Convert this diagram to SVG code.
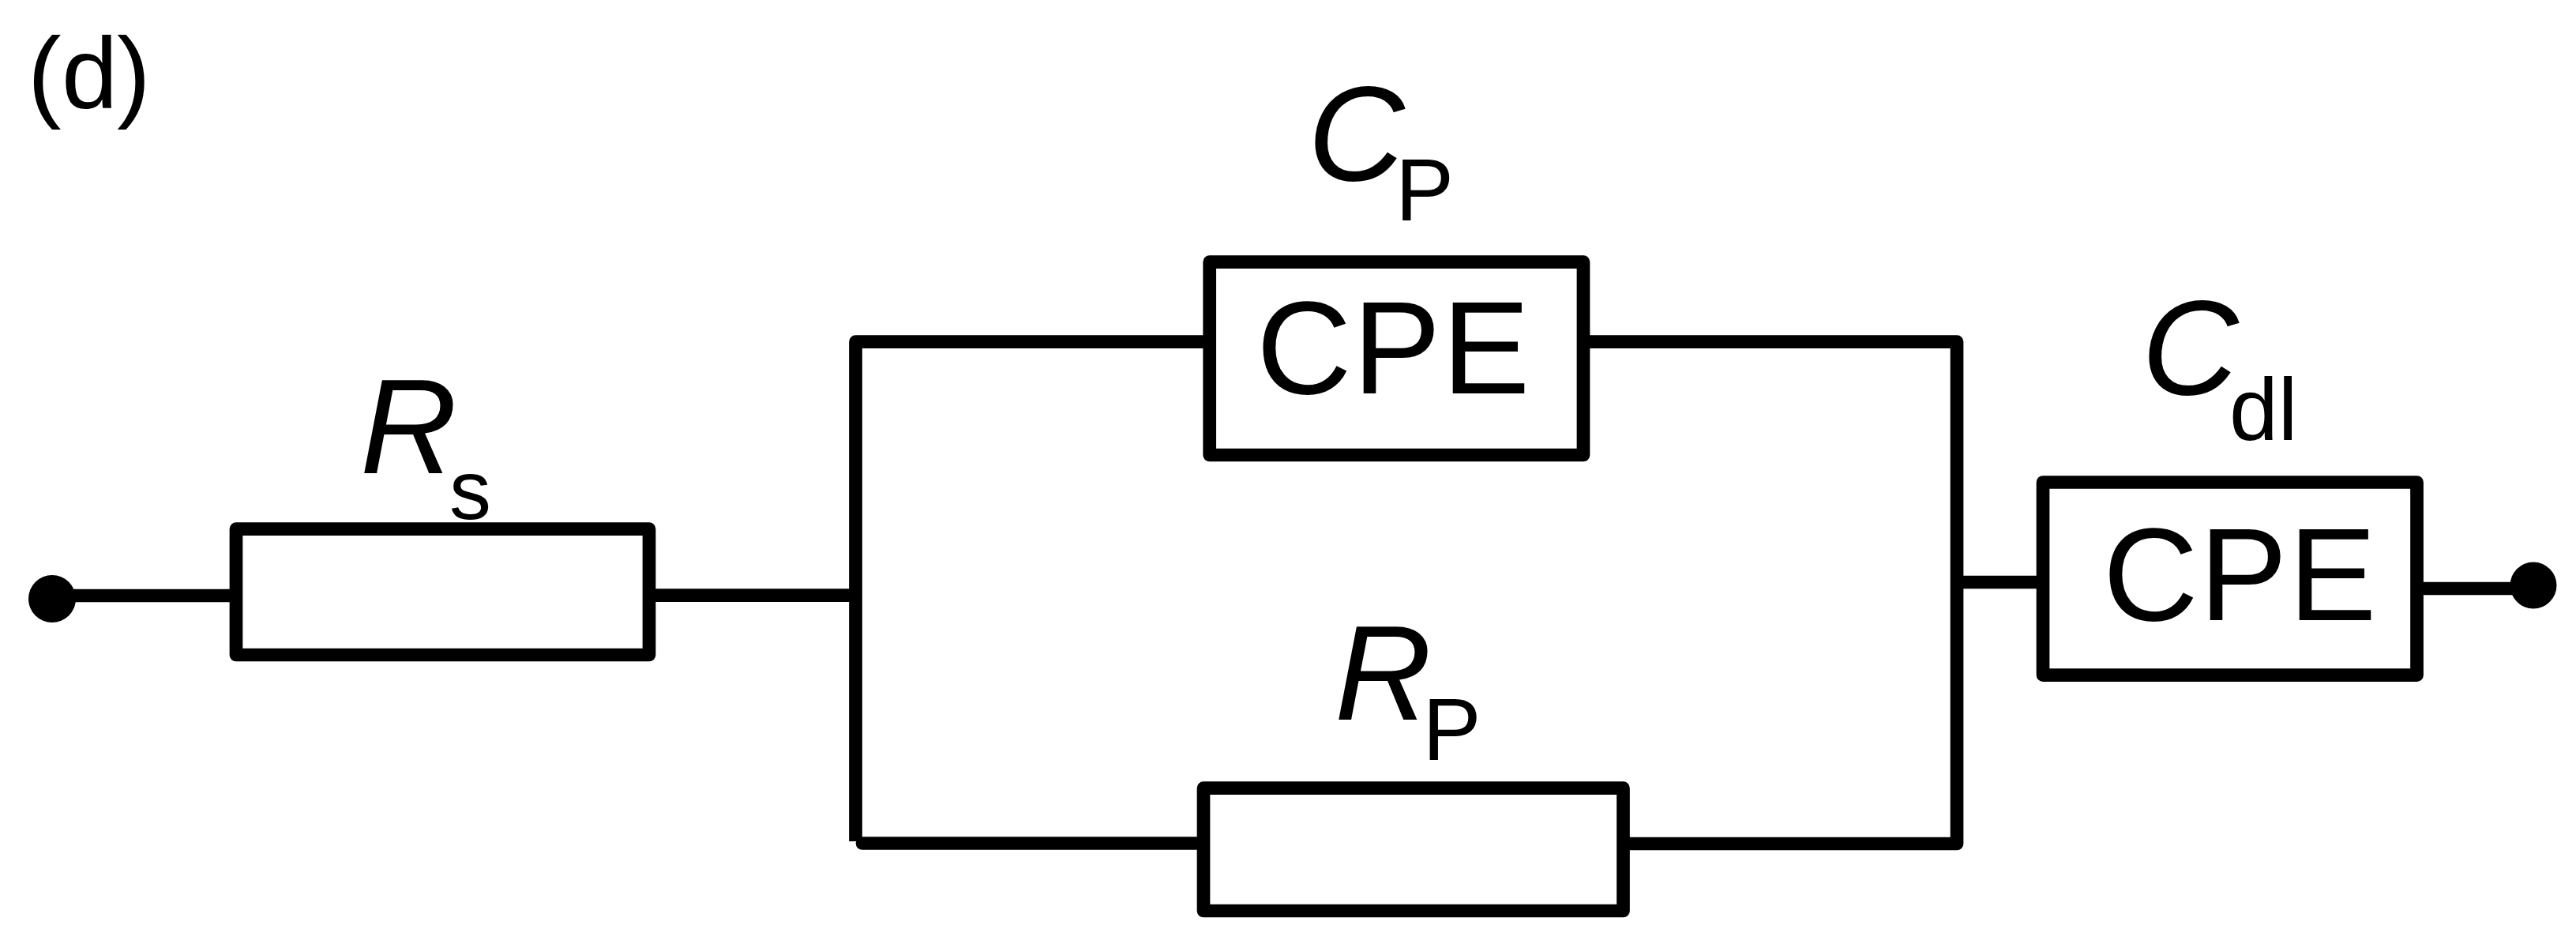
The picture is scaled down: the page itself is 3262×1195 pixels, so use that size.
<svg xmlns="http://www.w3.org/2000/svg" width="3262" height="1195" viewBox="0 0 3262 1195">
<style>
text{font-family:"Liberation Sans",Arial,sans-serif;fill:#000}
.box{fill:#fff;stroke:#000;stroke-width:16.700;stroke-linejoin:round}
.w{fill:none;stroke:#000;stroke-width:16.700;stroke-linejoin:round}
.dot{fill:#000}
.sym{font-size:170px;font-style:italic}
.sub{font-size:111px}
.cpe{font-size:167px;letter-spacing:1.500px}
</style>
<rect width="3262" height="1195" fill="#fff"/>
<text id="panel-label" x="35 78 148" y="137" font-size="128">(d)</text>
<g id="connectors">
<path class="w" d="M90 754H291"/>
<path class="w" d="M830 753.700H1083.500"/>
<path class="w" d="M1531.700 432.700H1083.500V1065"/>
<path class="w" stroke-linecap="round" d="M1092 1067.500H1524"/>
<path class="w" d="M2005 432.700H2478V1068H2055"/>
<path class="w" d="M2478 737H2587"/>
<path class="w" d="M3060 745H3190"/>
</g>
<g id="terminal-left"><circle class="dot" cx="66" cy="758" r="30"/></g>
<g id="terminal-right"><circle class="dot" cx="3208" cy="741" r="29.500"/></g>
<g id="Rs">
<rect class="box" x="299" y="669.700" width="523" height="159.300"/>
<text class="sym" x="456" y="599">R</text>
<text x="569" y="657" font-size="106">s</text>
</g>
<g id="Cp">
<rect class="box" x="1531.700" y="331.700" width="473.300" height="244.300"/>
<text class="cpe" x="1591" y="498">CPE</text>
<text class="sym" x="1656" y="228">C</text>
<text class="sub" x="1767" y="278.500">P</text>
</g>
<g id="Rp">
<rect class="box" x="1524" y="997.700" width="531.500" height="155.300"/>
<text class="sym" x="1690" y="910.500">R</text>
<text class="sub" x="1801.500" y="962">P</text>
</g>
<g id="Cdl">
<rect class="box" x="2587" y="610.500" width="473.500" height="244.200"/>
<text class="cpe" x="2663" y="785">CPE</text>
<text class="sym" x="2712" y="499">C</text>
<text class="sub" x="2823" y="557">dl</text>
</g>
</svg>
